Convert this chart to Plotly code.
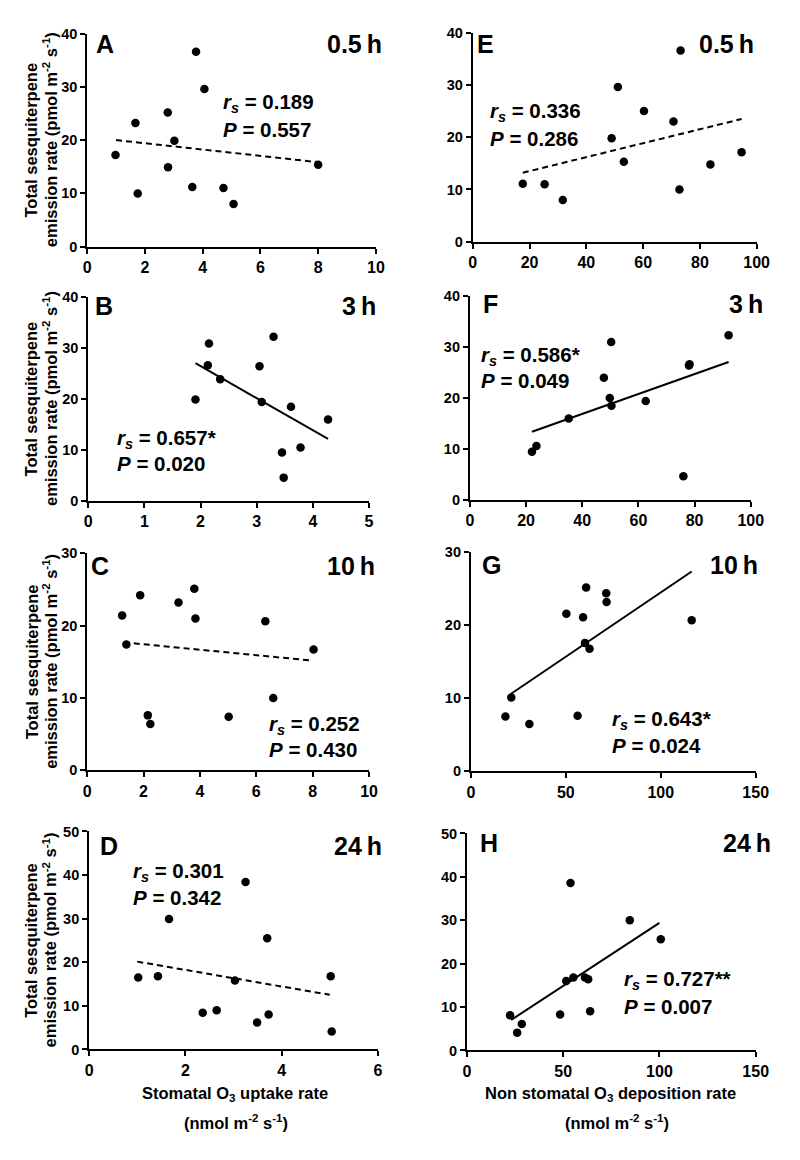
import numpy as np
import plotly.graph_objects as go

# ---------------- data ----------------
A_x = [0.98, 1.67, 1.75, 2.79, 2.80, 3.02, 3.64, 3.77, 4.06, 4.72, 5.07, 8.00]
A_y = [17.2, 23.2, 10.0, 25.2, 14.9, 19.9, 11.2, 36.6, 29.6, 11.0, 8.0, 15.4]

B_x = [1.91, 2.13, 2.15, 2.35, 3.05, 3.09, 3.30, 3.45, 3.48, 3.61, 3.78, 4.27]
B_y = [19.9, 26.6, 30.9, 23.9, 26.4, 19.4, 32.2, 9.5, 4.6, 18.5, 10.5, 16.0]

C_x = [1.24, 1.39, 1.88, 2.15, 2.24, 3.24, 3.80, 3.84, 5.02, 6.32, 6.60, 8.03]
C_y = [21.4, 17.4, 24.2, 7.6, 6.4, 23.2, 25.1, 21.0, 7.4, 20.6, 10.0, 16.7]

D_x = [1.02, 1.43, 1.66, 2.36, 2.65, 3.03, 3.25, 3.49, 3.70, 3.73, 5.02, 5.04]
D_y = [16.5, 16.8, 29.9, 8.4, 9.0, 15.8, 38.4, 6.2, 25.5, 8.0, 16.8, 4.1]

E_x = [17.6, 25.3, 31.7, 48.9, 51.1, 53.2, 60.3, 70.7, 73.2, 72.8, 83.7, 94.7]
E_y = [11.1, 11.0, 8.0, 19.8, 29.6, 15.3, 25.0, 23.0, 36.6, 10.0, 14.8, 17.1]

F_x = [22.1, 23.7, 35.2, 47.7, 49.8, 50.3, 50.4, 62.6, 76.0, 78.2, 78.0, 92.1]
F_y = [9.5, 10.6, 16.0, 24.0, 20.0, 31.0, 18.5, 19.4, 4.7, 26.6, 26.4, 32.3]

G_x = [18.2, 21.3, 30.8, 50.3, 56.2, 59.1, 60.7, 60.1, 62.5, 71.3, 71.5, 116.3]
G_y = [7.5, 10.1, 6.5, 21.6, 7.6, 21.1, 25.2, 17.6, 16.8, 24.4, 23.2, 20.7]

H_x = [22.4, 26.1, 28.5, 48.4, 51.6, 53.8, 55.3, 61.3, 63.0, 64.0, 84.6, 100.7]
H_y = [8.1, 4.1, 6.1, 8.3, 16.0, 38.6, 16.8, 16.8, 16.4, 9.0, 30.0, 25.6]

# x-extent of each regression line as drawn
fit_ranges = {"A": [1.0, 8.0], "B": [1.91, 4.27], "C": [1.3, 8.0], "D": [1.0, 5.0],
              "E": [17.6, 94.7], "F": [22.1, 92.1], "G": [21.0, 116.3], "H": [23.0, 100.0]}

times = {"A": "0.5\u2009h", "B": "3\u2009h", "C": "10\u2009h", "D": "24\u2009h",
         "E": "0.5\u2009h", "F": "3\u2009h", "G": "10\u2009h", "H": "24\u2009h"}
rs_vals = {"A": "0.189", "B": "0.657*", "C": "0.252", "D": "0.301",
           "E": "0.336", "F": "0.586*", "G": "0.643*", "H": "0.727**"}
p_vals = {"A": "0.557", "B": "0.020", "C": "0.430", "D": "0.342",
          "E": "0.286", "F": "0.049", "G": "0.024", "H": "0.007"}
significant = {"A": False, "B": True, "C": False, "D": False,
               "E": False, "F": True, "G": True, "H": True}

x_ranges = {"A": (10, 2), "B": (5, 1), "C": (10, 2), "D": (6, 2),
            "E": (100, 20), "F": (100, 20), "G": (150, 50), "H": (150, 50)}
y_ranges = {"A": 40, "B": 40, "C": 30, "D": 50, "E": 40, "F": 40, "G": 30, "H": 50}

xlab_left = ["Stomatal O<sub>3</sub> uptake rate", "(nmol m<sup>-2</sup> s<sup>-1</sup>)"]
xlab_right = ["Non stomatal O<sub>3</sub> deposition rate", "(nmol m<sup>-2</sup> s<sup>-1</sup>)"]
ylab = ["Total sesquiterpene", "emission rate (pmol m<sup>-2</sup> s<sup>-1</sup>)"]

data = {"A": (A_x, A_y), "B": (B_x, B_y), "C": (C_x, C_y), "D": (D_x, D_y),
        "E": (E_x, E_y), "F": (F_x, F_y), "G": (G_x, G_y), "H": (H_x, H_y)}

# ---------------- layout (pixel geometry of the page) ----------------
W, H = 800, 1160
FONT = "Liberation Sans, Arial, sans-serif"

def fx(p):
    return p / W

def fy(p):
    return 1 - p / H

# plot-area boxes: left, right, top, bottom (page pixels)
boxes = {"A": (85, 380, 26, 242), "B": (86, 373, 293, 500), "C": (85, 373, 553, 773),
         "D": (87, 382, 835, 1056),
         "E": (479, 769, 25, 237), "F": (476, 763, 292, 499), "G": (477, 768, 552, 774),
         "H": (473, 768, 837, 1057)}

# (letter left x, time right x, cap-centre y)
label_pos = {"A": (92, 388, 37), "B": (91, 382, 302), "C": (87, 381, 566), "D": (96, 388, 850),
             "E": (481, 768, 36), "F": (487, 778, 300), "G": (486, 772, 565), "H": (484, 786, 847)}
# (stats left x, line1 cap-centre y, line2 cap-centre y)
stats_pos = {"A": (222, 93, 123), "B": (113, 434, 462), "C": (269, 724, 752), "D": (130, 873, 902),
             "E": (495, 102, 132), "F": (485, 350, 378), "G": (619, 719, 748), "H": (631, 983, 1012)}

fig = go.Figure()
annotations = []
layout_axes = {}

for i, key in enumerate(["A", "B", "C", "D", "E", "F", "G", "H"], start=1):
    xs, ys = data[key]
    l, r, t, b = boxes[key]
    xa = "x" if i == 1 else f"x{i}"
    ya = "y" if i == 1 else f"y{i}"
    xname = "xaxis" if i == 1 else f"xaxis{i}"
    yname = "yaxis" if i == 1 else f"yaxis{i}"

    fig.add_trace(go.Scatter(x=xs, y=ys, mode="markers", xaxis=xa, yaxis=ya,
                             marker=dict(color="black", size=8.5), showlegend=False,
                             cliponaxis=False, hoverinfo="skip"))
    slope, icpt = np.polyfit(np.array(xs), np.array(ys), 1)
    fx0, fx1 = fit_ranges[key]
    fit_x = np.array([fx0, fx1])
    fit_y = slope * fit_x + icpt
    fig.add_trace(go.Scatter(x=fit_x, y=fit_y, mode="lines", xaxis=xa, yaxis=ya,
                             line=dict(color="black", width=2,
                                       dash="solid" if significant[key] else "6px,4px"),
                             showlegend=False, hoverinfo="skip"))

    xmax, xdt = x_ranges[key]
    ymax = y_ranges[key]
    axis_common = dict(showline=True, linecolor="black", linewidth=2, ticks="outside",
                       ticklen=5, tickwidth=2, tickcolor="black", showgrid=False,
                       zeroline=False, fixedrange=True)
    layout_axes[xname] = dict(axis_common, domain=[fx(l), fx(r)], range=[0, xmax],
                              dtick=xdt, tick0=0, anchor=ya,
                              tickfont=dict(family=FONT, size=16, color="black", weight="bold"))
    layout_axes[yname] = dict(axis_common, domain=[fy(b), fy(t)], range=[0, ymax],
                              dtick=10, tick0=0, anchor=xa,
                              tickfont=dict(family=FONT, size=14.5, color="black", weight="bold"))

    # panel letter and time label
    lx, trx, ty = label_pos[key]
    annotations.append(dict(text=key, x=fx(lx), y=fy(ty), xref="paper", yref="paper",
                            xanchor="left", yanchor="middle", showarrow=False,
                            font=dict(family=FONT, size=25, color="black", weight="bold")))
    annotations.append(dict(text=times[key], x=fx(trx), y=fy(ty), xref="paper", yref="paper",
                            xanchor="right", yanchor="middle", showarrow=False,
                            font=dict(family=FONT, size=25, color="black", weight="bold")))
    # stats
    sx, s1, s2 = stats_pos[key]
    annotations.append(dict(text=f"<i>r</i><sub><i>s</i></sub> = {rs_vals[key]}",
                            x=fx(sx), y=fy(s1 + 3), xref="paper", yref="paper",
                            xanchor="left", yanchor="middle", showarrow=False,
                            font=dict(family=FONT, size=20.5, color="black", weight="bold")))
    annotations.append(dict(text=f"<i>P</i> = {p_vals[key]}",
                            x=fx(sx), y=fy(s2), xref="paper", yref="paper",
                            xanchor="left", yanchor="middle", showarrow=False,
                            font=dict(family=FONT, size=20.5, color="black", weight="bold")))

    # y-axis titles on the left column
    if key in "ABCD":
        cy = (t + b) / 2
        for line, xpos in zip(ylab, (28, 47)):
            annotations.append(dict(text=line, x=fx(xpos), y=fy(cy), xref="paper",
                                    yref="paper", xanchor="center", yanchor="middle",
                                    textangle=-90, showarrow=False,
                                    font=dict(family=FONT, size=16.5, color="black",
                                              weight="bold")))

# x-axis titles under the bottom row
for lines, cx in ((xlab_left, (236, 237)), (xlab_right, (620, 626))):
    for line, xpos, ypos in zip(lines, cx, (1101, 1130)):
        annotations.append(dict(text=line, x=fx(xpos), y=fy(ypos), xref="paper",
                                yref="paper", xanchor="center", yanchor="middle",
                                showarrow=False,
                                font=dict(family=FONT, size=16.5, color="black",
                                          weight="bold")))

fig.update_layout(width=W, height=H, margin=dict(l=0, r=0, t=0, b=0),
                  paper_bgcolor="white", plot_bgcolor="white", hovermode=False,
                  annotations=annotations, **layout_axes)

# remove the default page margin so the 800x1160 figure fills the window exactly
fig.write_html("out.html", config={"displayModeBar": False},
               post_script="document.body.style.margin='0px';")
